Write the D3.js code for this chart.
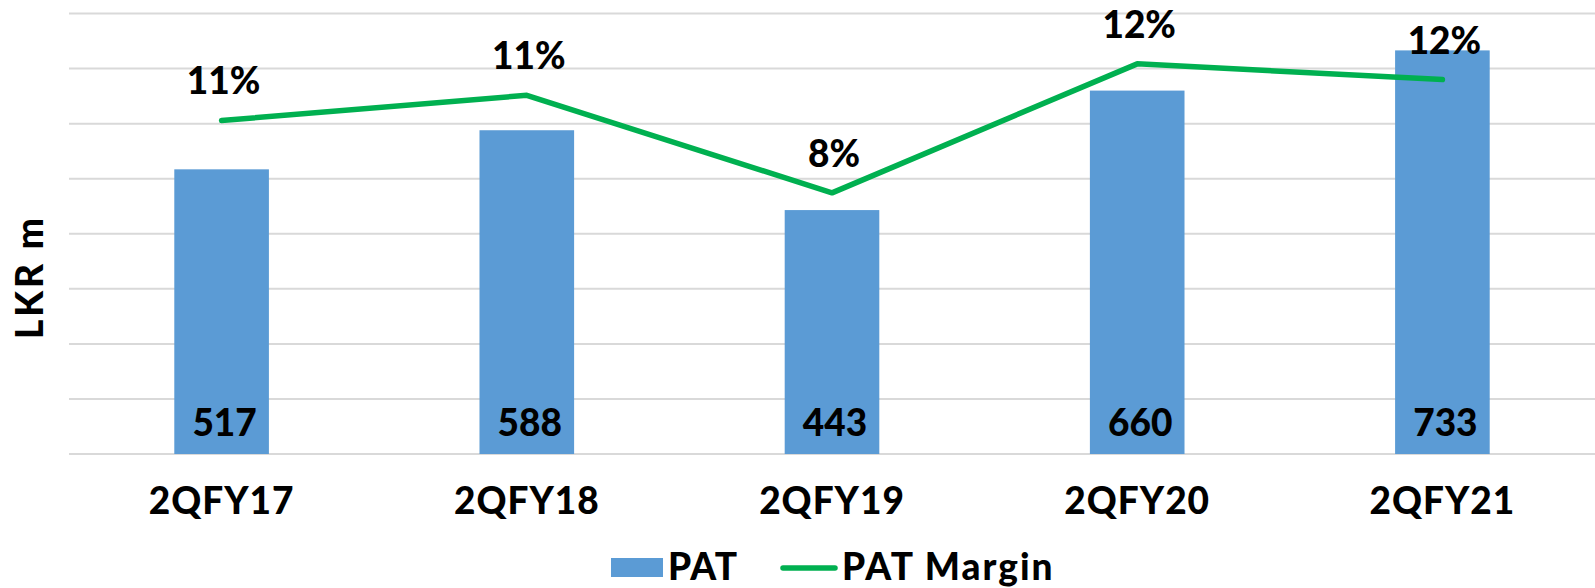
<!DOCTYPE html>
<html>
<head>
<meta charset="utf-8">
<script src="https://cdn.jsdelivr.net/npm/d3@7"></script>
<style>
  body { margin: 0; background: #fff; }
  svg { display: block; font-family: Lato, "Open Sans", sans-serif; font-weight: 900; }
</style>
</head>
<body>
<svg width="1595" height="588"></svg>
<script>
(function(d3) {
    'use strict';

    // chart data
    const quarters = ['2QFY17', '2QFY18', '2QFY19', '2QFY20', '2QFY21'];
    const pat = [517, 588, 443, 660, 733];
    const patMargin = [10.6, 11.4, 8.3, 12.4, 11.9];
    const marginLabels = ['11%', '11%', '8%', '12%', '12%'];
    const yTicks = [0, 100, 200, 300, 400, 500, 600, 700, 800];

    const svg = d3.select('svg');
    const left = 69, right = 1595, top = 13.5, bottom = 454;
    const fontSize = 37;

    const x = d3.scaleBand()
        .domain(quarters)
        .range([left, right])
        .paddingInner(0.69)
        .paddingOuter(0.345);

    const y = d3.scaleLinear().domain([0, 800]).range([bottom, top]);
    const y2 = d3.scaleLinear().domain([0, 14]).range([bottom, top]);

    // gridlines
    svg.append('g')
        .selectAll('line')
        .data(yTicks)
        .enter().append('line')
        .attr('x1', left)
        .attr('x2', right)
        .attr('y1', d => y(d))
        .attr('y2', d => y(d))
        .attr('stroke', '#d9d9d9')
        .attr('stroke-width', 2);

    // bars
    svg.append('g')
        .selectAll('rect')
        .data(pat)
        .enter().append('rect')
        .attr('x', (d, i) => x(quarters[i]))
        .attr('width', x.bandwidth())
        .attr('y', d => y(d))
        .attr('height', d => y(0) - y(d))
        .attr('fill', '#5b9bd5');

    // bar value labels
    svg.append('g')
        .selectAll('text')
        .data(pat)
        .enter().append('text')
        .attr('x', (d, i) => x(quarters[i]) + x.bandwidth() / 2 + 3)
        .attr('y', 436)
        .attr('text-anchor', 'middle')
        .attr('font-size', fontSize)
        .attr('fill', '#000')
        .text(d => d);

    // margin line
    const cx = i => x(quarters[i]) + x.bandwidth() / 2;
    const line = d3.line()
        .x((d, i) => cx(i))
        .y(d => y2(d));

    svg.append('path')
        .datum(patMargin)
        .attr('d', line)
        .attr('fill', 'none')
        .attr('stroke', '#00b050')
        .attr('stroke-width', 5.5)
        .attr('stroke-linecap', 'round')
        .attr('stroke-linejoin', 'round');

    svg.append('g')
        .selectAll('text')
        .data(patMargin)
        .enter().append('text')
        .attr('x', (d, i) => cx(i) + 2)
        .attr('y', d => y2(d) - 26)
        .attr('text-anchor', 'middle')
        .attr('font-size', fontSize)
        .text((d, i) => marginLabels[i]);

    // category axis
    const xAxis = svg.append('g')
        .attr('transform', `translate(0,${bottom})`)
        .call(d3.axisBottom(x).tickSize(0).tickPadding(0));
    xAxis.select('.domain').remove();
    xAxis.selectAll('text')
        .attr('dy', null)
        .attr('y', 60)
        .attr('font-family', 'Lato, "Open Sans", sans-serif')
        .attr('font-weight', 900)
        .attr('font-size', fontSize)
        .attr('letter-spacing', 1)
        .attr('fill', '#000');

    // y axis title
    svg.append('text')
        .attr('transform', 'translate(43,277) rotate(-90)')
        .attr('text-anchor', 'middle')
        .attr('font-size', fontSize)
        .attr('letter-spacing', 3)
        .text('LKR m');

    // legend
    const legend = svg.append('g');
    legend.append('rect')
        .attr('x', 611).attr('y', 558)
        .attr('width', 52).attr('height', 19)
        .attr('fill', '#5b9bd5');
    legend.append('text')
        .attr('x', 668).attr('y', 580)
        .attr('font-size', fontSize)
        .attr('letter-spacing', 1)
        .text('PAT');
    legend.append('line')
        .attr('x1', 783).attr('x2', 835)
        .attr('y1', 568).attr('y2', 568)
        .attr('stroke', '#00b050')
        .attr('stroke-width', 5.5)
        .attr('stroke-linecap', 'round');
    legend.append('text')
        .attr('x', 842).attr('y', 580)
        .attr('font-size', fontSize)
        .attr('letter-spacing', 2)
        .text('PAT Margin');

}(d3));
</script>
</body>
</html>
